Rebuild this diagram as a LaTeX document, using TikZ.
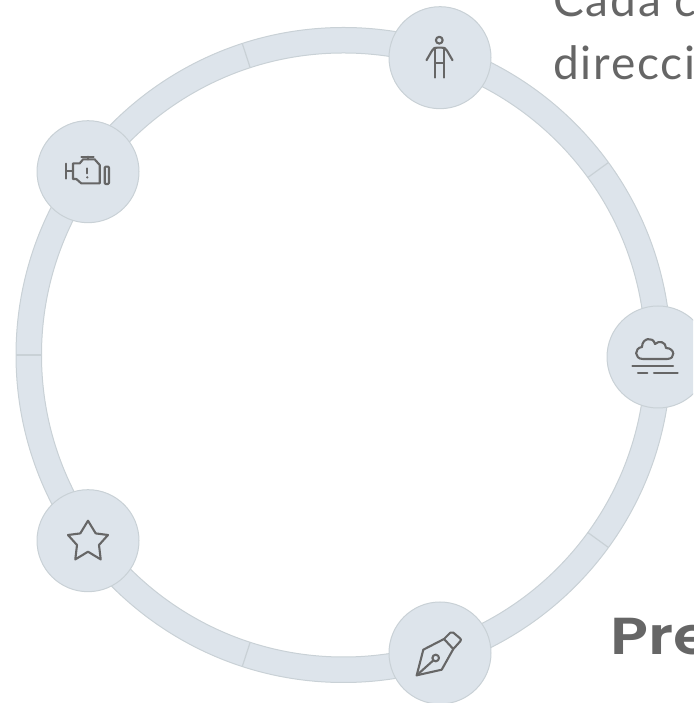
\documentclass[tikz,border=0pt]{standalone}
\usepackage{fontspec}
\setmainfont{Lato}[LetterSpace=4]
\setsansfont{Poppins SemiBold}
\definecolor{ringfill}{HTML}{DDE4EB}
\definecolor{ringline}{HTML}{C9D1D6}
\definecolor{iconline}{HTML}{666666}
\tikzset{
    badge/.style={circle, draw=ringline, fill=ringfill, line width=1pt, minimum size=102pt, inner sep=0pt},
    icon/.style={draw=iconline, line width=2.1pt, line join=round, line cap=round},
    bodytext/.style={text=iconline, font=\fontsize{46}{46}\selectfont, anchor=base west, inner sep=0pt},
    tick/.style={draw=ringline, line width=1.2pt}
}
\begin{document}
\begin{tikzpicture}[x=1pt, y=1pt]
    \useasboundingbox (0,0) rectangle (693,703);
    \clip (0,0) rectangle (693,703);

    % Anello
    \draw[ringline, line width=1pt, fill=ringfill, even odd rule] (343.5,348) circle (327.5) (343.5,348) circle (302);

    % Tacche
    \draw[tick] (343.5,348) ++(36:302) -- ++(36:25.5);
    \draw[tick] (343.5,348) ++(108:302) -- ++(108:25.5);
    \draw[tick] (343.5,348) ++(180:302) -- ++(180:25.5);
    \draw[tick] (343.5,348) ++(252:302) -- ++(252:25.5);
    \draw[tick] (343.5,348) ++(324:302) -- ++(324:25.5);

    % Cerchi
    \node[badge] (person) at (440,645.3) {};
    \node[badge] (engine) at (88,531.3) {};
    \node[badge] (fog) at (658,346) {};
    \node[badge] (star) at (88,162.3) {};
    \node[badge] (pen) at (440,50) {};

    % Persona
    \begin{scope}[shift={(person.center)}]
        \draw[icon] (-0.7,17.5) circle (3.4);
        \draw[icon] (-13.5,-2.5) -- (-8,7) .. controls (-7,9.5) and (-5,10) .. (-3,10) -- (2,10) .. controls (4,10) and (6,9.5) .. (7,7) -- (12.5,-2.5);
        \draw[icon] (-5.2,10) -- (-5.2,-20) (3.8,10) -- (3.8,-20) (-5.2,-5.5) -- (3.8,-5.5);
    \end{scope}

    % Motore
    \begin{scope}[shift={(engine.center)}]
        \draw[icon] (-15,8.3) -- (-8.3,8.3) -- (-5,12.3) -- (6.7,12.3) -- (11.7,6.7) -- (11.7,-11.7) -- (-6.7,-11.7) -- (-11.7,-7.3) -- (-15,-7.3) -- cycle;
        \draw[icon] (0,12.3) -- (0,15) (-6.7,15) -- (5.7,15);
        \draw[icon] (-21.7,8) -- (-21.7,-7) (-21.7,1) -- (-15,1);
        \draw[icon, rounded corners=1pt] (16.7,5) rectangle (21,-12.3);
        \draw[icon, line width=1.8pt] (-0.7,3.3) -- (-0.7,-1.7);
        \fill[iconline] (-0.7,-5.7) circle (1.2);
    \end{scope}

    % Nebbia
    \begin{scope}[shift={(fog.center)}]
        \draw[icon] (-15,-2) .. controls (-24,-2) and (-24,9) .. (-16,10) .. controls (-16,19) and (-5,21) .. (-3,13) .. controls (1,17) and (8,15) .. (8,9) .. controls (17,9) and (18,-2) .. (9,-2) -- cycle;
        \draw[icon] (-25.7,-9) -- (15,-9);
        \draw[icon] (-20,-15.7) -- (-10.7,-15.7) (-4,-15.7) -- (19.7,-15.7);
    \end{scope}

    % Stella
    \begin{scope}[shift={(star.center)}]
        \draw[icon] (0,20) -- (7.7,7.3) -- (20,5.7) -- (11,-4.3) -- (12.7,-18.7) -- (0,-11) -- (-12.7,-18.7) -- (-11,-4.3) -- (-20,5.7) -- (-7.7,7.3) -- cycle;
    \end{scope}

    % Pennino
    \begin{scope}[shift={(pen.center)}]
        \draw[icon] (-23.3,-22.3) -- (-16.7,3.3) -- (4,14) -- (13.3,4) -- (1.7,-16.7) -- cycle;
        \draw[icon, rounded corners=2pt] (4,14) -- (11.7,21.7) -- (21.7,13.3) -- (13.3,4);
        \draw[icon] (-4.3,-5) circle (3.3);
        \draw[icon] (-23.3,-22.3) -- (-6.7,-7.4);
    \end{scope}

    % Testi
    \node[bodytext] (line1) at (553,686) {Cada co};
    \node[bodytext] (line2) at (553,623) {direcció};
    \node[text=iconline, font=\sffamily\fontsize{52}{52}\selectfont, anchor=base west, inner sep=0pt, xscale=1.2] (title) at (610,48) {Pre};
\end{tikzpicture}
\end{document}
